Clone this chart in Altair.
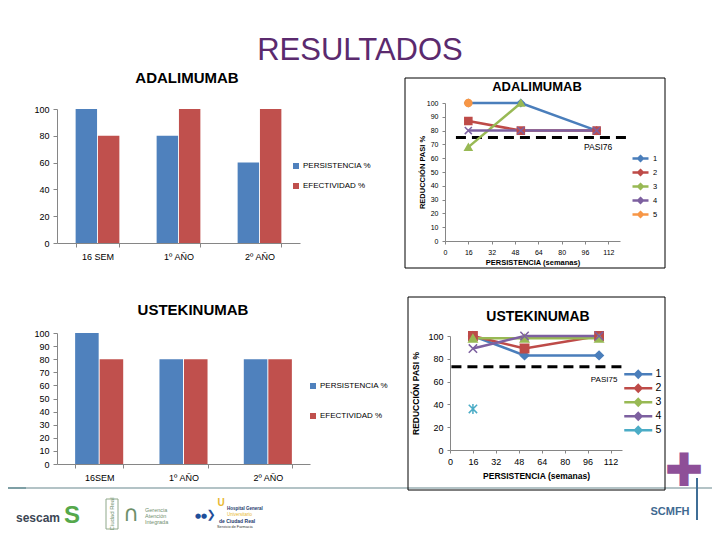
import altair as alt
import pandas as pd

W, H = 704, 522
ARIAL = "Liberation Sans"

# ---------------- data ----------------
ada_categories = ["16 SEM", "1º AÑO", "2º AÑO"]
ada_persistencia = [100, 80, 60]
ada_efectividad = [80, 100, 100]

ust_categories = ["16SEM", "1º AÑO", "2º AÑO"]
ust_persistencia = [100, 80, 80]
ust_efectividad = [80, 80, 80]

bar_series = ["PERSISTENCIA %", "EFECTIVIDAD %"]

line_series = ["1", "2", "3", "4", "5"]
weeks = [16, 52, 104]
ada_lines = [[100, 100, 80], [87, 80, 80], [68, 100], [80, 80, 80], [100]]
ust_lines = [[100, 83, 83], [100, 89, 100], [98, 98, 98], [89, 100, 100], [36]]
ada_pasi = 75
ust_pasi = 73
ada_pasi_label = "PASI76"
ust_pasi_label = "PASI75"
x_ticks = [0, 16, 32, 48, 64, 80, 96, 112]

BAR_COLORS = ["#4F81BD", "#C0504D"]
ADA_COLORS = ["#4A7EBB", "#BE4B48", "#98B954", "#7D60A0", "#F79646"]
UST_COLORS = ["#4A7EBB", "#BE4B48", "#98B954", "#7D60A0", "#4BACC6"]
X_PATH = "M-1,-1L1,1M1,-1L-1,1"
AST_PATH = "M-1,-1L1,1M1,-1L-1,1M0,-1.2L0,1.2"
ADA_SHAPES = ["diamond", "square", "triangle-up", X_PATH, "circle"]
UST_SHAPES = ["diamond", "square", "triangle-up", X_PATH, AST_PATH]
AXIS_GRAY = "#868686"


def text_layer(t, x, y, size, color="#000000", weight="normal", font=ARIAL,
               align="center", angle=0, baseline="middle"):
    return alt.Chart(pd.DataFrame({"t": [t]})).mark_text(
        fontSize=size, color=color, fontWeight=weight, font=font,
        align=align, baseline=baseline, angle=angle
    ).encode(x=alt.value(x), y=alt.value(y), text="t:N")


def frame(x0, y0, x1, y1):
    return alt.Chart(pd.DataFrame({"a": [0]})).mark_rect(
        fillOpacity=0, stroke="#000000", strokeWidth=1
    ).encode(x=alt.value(x0), x2=alt.value(x1), y=alt.value(y0), y2=alt.value(y1))


def bar_chart(cats, pers, efec, x_range, y_range, y_step, pad_inner,
              legend_x, legend_y, row_pad):
    df = pd.DataFrame({
        "categoria": cats + cats,
        "serie": [bar_series[0]] * len(cats) + [bar_series[1]] * len(cats),
        "valor": pers + efec,
    })
    return alt.Chart(df).mark_bar().encode(
        x=alt.X("categoria:N", sort=cats,
                scale=alt.Scale(range=x_range, paddingInner=pad_inner,
                                paddingOuter=pad_inner / 2),
                axis=alt.Axis(orient="bottom", offset=-(H - y_range[0]), title=None,
                              labelAngle=0, domainColor=AXIS_GRAY, tickColor=AXIS_GRAY,
                              tickBand="extent", tickSize=4, labelFont=ARIAL,
                              labelFontSize=9, labelColor="#000000", labelPadding=5,
                              grid=False, zindex=1)),
        xOffset=alt.XOffset("serie:N", sort=bar_series,
                            scale=alt.Scale(paddingInner=0.04)),
        y=alt.Y("valor:Q",
                scale=alt.Scale(domain=[0, 100], range=y_range, nice=False),
                axis=alt.Axis(orient="left", offset=-x_range[0], title=None,
                              values=list(range(0, 101, y_step)),
                              domainColor=AXIS_GRAY, tickColor=AXIS_GRAY, tickSize=4,
                              labelFont=ARIAL, labelFontSize=9, labelColor="#000000",
                              labelPadding=4, grid=False, zindex=1)),
        color=alt.Color("serie:N", sort=bar_series,
                        scale=alt.Scale(domain=bar_series, range=BAR_COLORS),
                        legend=alt.Legend(orient="none", legendX=legend_x, legendY=legend_y,
                                          direction="vertical", title=None,
                                          symbolType="square", symbolSize=36,
                                          symbolStrokeWidth=0, labelFont=ARIAL,
                                          labelFontSize=8, labelColor="#000000",
                                          rowPadding=row_pad, padding=0, labelOffset=3)),
    )


def line_chart(series_values, colors, shapes, pt_size, x_range, y_range, y_step,
               lab_size, title_size, y_title_x, x_title_y,
               pasi, pasi_label, pasi_x, pasi_y, pasi_size, rule_x0, rule_x1,
               leg_x, leg_y, leg_row, leg_lab, leg_size, leg_path, leg_off):
    rows = []
    for name, vals in zip(line_series, series_values):
        for w, v in zip(weeks, vals):
            rows.append({"serie": name, "semana": w, "reduccion": v})
    df = pd.DataFrame(rows)
    xs = alt.Scale(domain=[0, 120], range=x_range, nice=False)
    ys = alt.Scale(domain=[0, 100], range=y_range, nice=False)
    x_axis = alt.Axis(orient="bottom", offset=-(H - y_range[0]), values=x_ticks,
                      title="PERSISTENCIA (semanas)", titleFont=ARIAL,
                      titleFontSize=title_size, titleFontWeight="bold",
                      titleY=x_title_y, titleBaseline="middle",
                      domainColor=AXIS_GRAY, tickColor=AXIS_GRAY, tickSize=3,
                      labelFont=ARIAL, labelFontSize=lab_size, labelColor="#000000",
                      labelPadding=4, labelFlush=False, grid=False, zindex=1)
    y_axis = alt.Axis(orient="left", offset=-x_range[0],
                      values=list(range(0, 101, y_step)),
                      title="REDUCCIÓN PASI %", titleFont=ARIAL,
                      titleFontSize=title_size, titleFontWeight="bold",
                      titleX=y_title_x, titleBaseline="middle",
                      domainColor=AXIS_GRAY, tickColor=AXIS_GRAY, tickSize=3,
                      labelFont=ARIAL, labelFontSize=lab_size, labelColor="#000000",
                      labelPadding=4, grid=False, zindex=1)
    X = alt.X("semana:Q", scale=xs, axis=x_axis)
    Y = alt.Y("reduccion:Q", scale=ys, axis=y_axis)

    rule_df = pd.DataFrame({"semana": [rule_x0], "fin": [rule_x1], "reduccion": [pasi]})
    rule = alt.Chart(rule_df).mark_rule(
        color="#000000", strokeWidth=3, strokeDash=[10, 6]
    ).encode(x=X, x2="fin:Q", y=Y)

    txt_df = pd.DataFrame({"semana": [pasi_x], "reduccion": [pasi_y], "t": [pasi_label]})
    txt = alt.Chart(txt_df).mark_text(
        font=ARIAL, fontSize=pasi_size, color="#000000"
    ).encode(x=X, y=Y, text="t:N")

    lines = alt.Chart(df).mark_line(strokeWidth=2.5).encode(
        x=X, y=Y,
        color=alt.Color("serie:N", scale=alt.Scale(domain=line_series, range=colors),
                        legend=alt.Legend(orient="none", legendX=leg_x, legendY=leg_y,
                                          direction="vertical", title=None,
                                          symbolType=leg_path, symbolSize=leg_size,
                                          symbolStrokeWidth=2.5, labelFont=ARIAL,
                                          labelFontSize=leg_lab, labelColor="#000000",
                                          rowPadding=leg_row, padding=0,
                                          labelOffset=leg_off)),
    )
    point_layers = []
    for name, col, shp in zip(line_series, colors, shapes):
        point_layers.append(
            alt.Chart(df[df["serie"] == name]).mark_point(
                shape=shp, filled=True, fill=col, stroke=col, size=pt_size,
                strokeWidth=1.5, opacity=1
            ).encode(x=X, y=Y)
        )
    return alt.layer(rule, lines, *point_layers, txt)


ada_bar = bar_chart(ada_categories, ada_persistencia, ada_efectividad,
                    [49, 292], [235, 101], 20, 0.46, 284, 154, 12)
ust_bar = bar_chart(ust_categories, ust_persistencia, ust_efectividad,
                    [49, 302], [456, 325], 10, 0.43, 301, 374, 22)

ada_line = line_chart(ada_lines, ADA_COLORS, ADA_SHAPES, 50,
                      [437, 612], [233, 95], 10, 7, 7.5, -23, 21,
                      ada_pasi, ada_pasi_label, 105, 68, 8.5, 7.5, 127,
                      626, 144, -2.3, 7.5, 100,
                      "M-1.6,0H1.6M0,-0.45L0.45,0L0,0.45L-0.45,0Z", 6)
ust_line = line_chart(ust_lines, UST_COLORS, UST_SHAPES, 70,
                      [442, 614], [442, 328], 20, 9, 8.5, -35, 25,
                      ust_pasi, ust_pasi_label, 107.5, 61, 8, 1, 120,
                      625, 361, -7, 10.5, 49,
                      "M-4,0H4M0,-0.9L0.9,0L0,0.9L-0.9,0Z", 12)

footer = [
    alt.Chart(pd.DataFrame({"a": [0]})).mark_rule(color="#B3C3C6", strokeWidth=2).encode(
        x=alt.value(0), x2=alt.value(W), y=alt.value(480)),
    alt.Chart(pd.DataFrame({"a": [0]})).mark_rule(color="#7E9FA5", strokeWidth=2).encode(
        x=alt.value(0), x2=alt.value(18), y=alt.value(480)),
    text_layer("sescam", 30, 510, 12, color="#3C4654", weight="bold"),
    text_layer("S", 64, 508, 24, color="#55A84B", weight="bold"),
    alt.Chart(pd.DataFrame({"a": [0]})).mark_rect(fill="white", stroke="#8FA88A", strokeWidth=1).encode(
        x=alt.value(98), x2=alt.value(110), y=alt.value(491), y2=alt.value(521)),
    text_layer("Ciudad Real", 104, 506, 6, color="#6E8F6A", angle=270),
    text_layer("∩", 123, 506, 22, color="#6E8F6A", font="DejaVu Sans"),
    text_layer("Gerencia", 137, 502, 5.5, color="#6F8F6F", align="left"),
    text_layer("Atención", 137, 508, 5.5, color="#6F8F6F", align="left"),
    text_layer("Integrada", 137, 514, 5.5, color="#6F8F6F", align="left"),
    text_layer("●●", 193, 508, 7, color="#1F4E9A", font="DejaVu Sans"),
    text_layer("❯", 203, 507, 11, color="#1F4E9A", font="DejaVu Sans", weight="bold"),
    text_layer("U", 213, 495, 10, color="#E8B830", weight="bold"),
    text_layer("Hospital General", 219, 501, 4.5, color="#1E3A6E", weight="bold", align="left"),
    text_layer("Universitario", 219, 507, 4.5, color="#E8B830", align="left"),
    text_layer("de Ciudad Real", 211, 513, 5, color="#1E3A6E", weight="bold", align="left"),
    text_layer("Servicio de Farmacia", 209, 519, 3.8, color="#333333", align="left"),
    text_layer("✚", 676, 464, 46, color="#8E4F98", font="DejaVu Sans"),
    alt.Chart(pd.DataFrame({"a": [0]})).mark_rule(color="#3F6E96", strokeWidth=2).encode(
        x=alt.value(689), y=alt.value(470), y2=alt.value(512)),
    text_layer("SCMFH", 662, 504, 11, color="#3F6A91", weight="bold"),
]

layers = footer + [
    frame(397, 70, 657, 260),
    frame(400, 289, 657, 482),
    ada_bar,
    ust_bar,
    ada_line,
    ust_line,
    text_layer("RESULTADOS", 352, 43, 31, color="#5B2A6E"),
    text_layer("ADALIMUMAB", 179, 70, 15, weight="bold"),
    text_layer("USTEKINUMAB", 185, 302, 15, weight="bold"),
    text_layer("ADALIMUMAB", 529, 79, 13, weight="bold"),
    text_layer("USTEKINUMAB", 530, 309, 14, weight="bold"),
]

chart = alt.layer(*layers).resolve_scale(
    x="independent", y="independent", color="independent", xOffset="independent"
).resolve_axis(x="independent", y="independent").resolve_legend(
    color="independent"
).properties(
    width=W, height=H, padding=0, autosize=alt.AutoSizeParams(type="none")
).configure_view(strokeWidth=0).configure_axis(grid=False)

chart.save("out.html", embed_options={"renderer": "svg", "actions": False})
